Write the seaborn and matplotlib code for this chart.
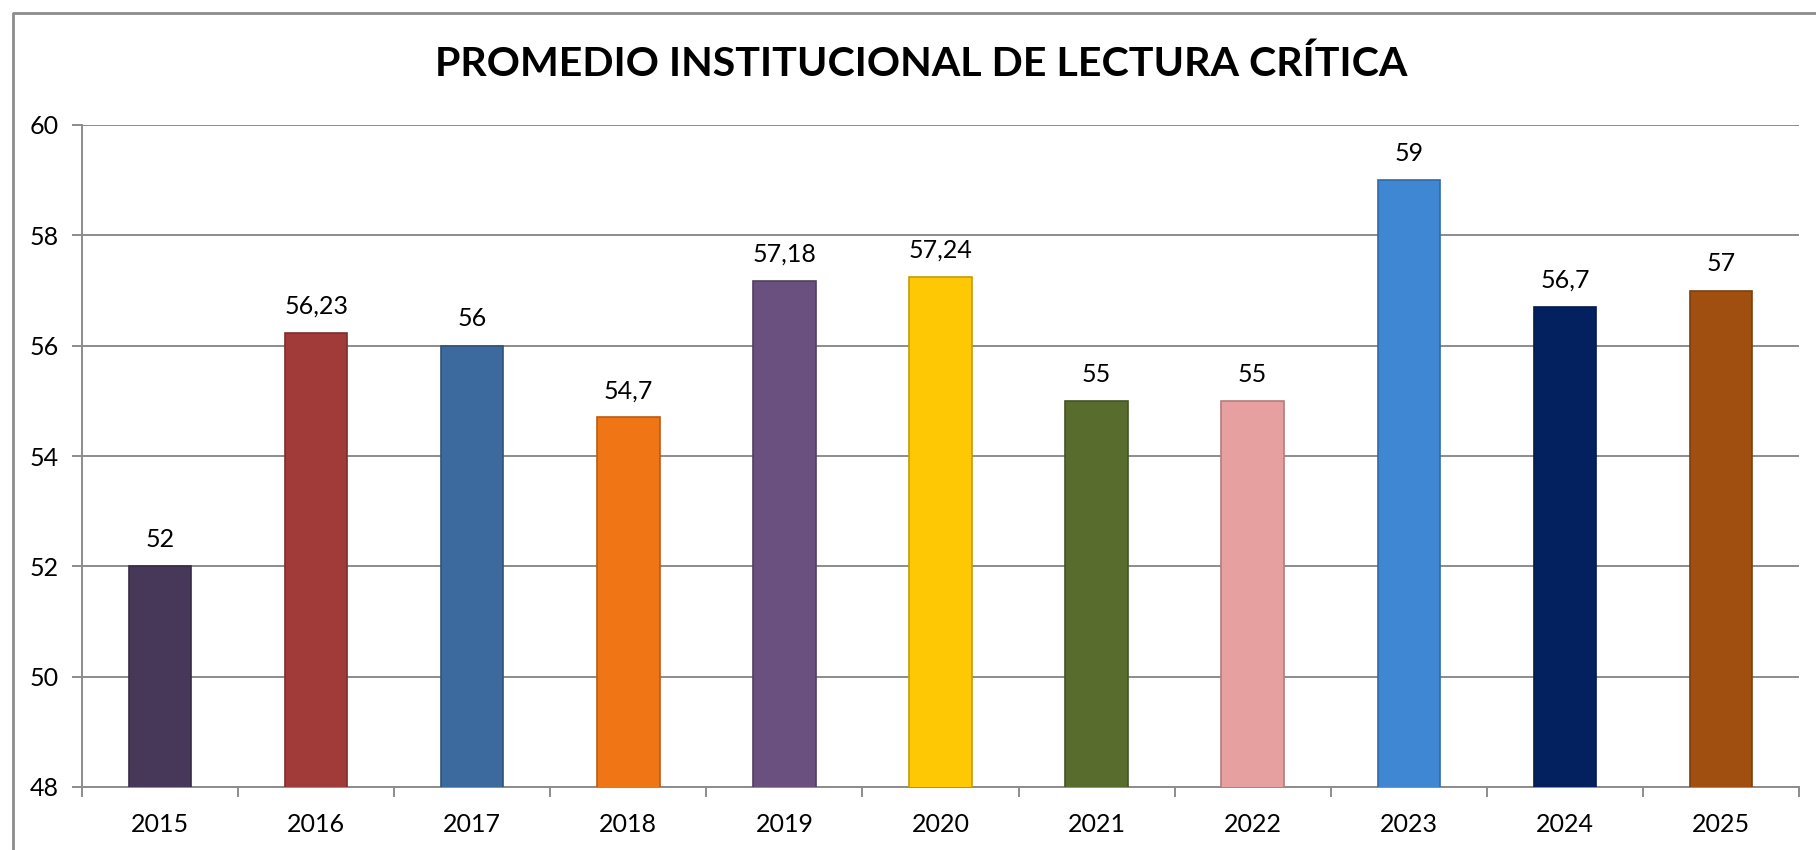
import matplotlib
matplotlib.use("Agg")
import matplotlib.pyplot as plt
import matplotlib.colors as mcolors
from matplotlib.lines import Line2D
import seaborn as sns
import pandas as pd

years = ["2015", "2016", "2017", "2018", "2019", "2020", "2021", "2022", "2023", "2024", "2025"]
values = [52, 56.23, 56, 54.7, 57.18, 57.24, 55, 55, 59, 56.7, 57]
labels = ["52", "56,23", "56", "54,7", "57,18", "57,24", "55", "55", "59", "56,7", "57"]
colors = ["#473859", "#A03B3A", "#3D6A9E", "#F07514", "#69507F", "#FFC805",
          "#576C2D", "#E5A09F", "#3F86D3", "#04215F", "#A04F10"]
title = "PROMEDIO INSTITUCIONAL DE LECTURA CRÍTICA"
yticks = [48, 50, 52, 54, 56, 58, 60]

sns.set_theme(style="white")
plt.rcParams["font.family"] = ["Lato", "DejaVu Sans"]

W, H = 1816, 850
fig = plt.figure(figsize=(W / 100, H / 100), dpi=100)
ax = fig.add_axes([82 / W, 1 - 787 / H, (1799 - 82) / W, (787 - 125) / H])

df = pd.DataFrame({"year": years, "value": values})
sns.barplot(data=df, x="year", y="value", hue="year", palette=colors,
            width=0.4, saturation=1, legend=False, ax=ax, zorder=3)

for p, c in zip(ax.patches, colors):
    dark = tuple(v * 0.78 for v in mcolors.to_rgb(c))
    p.set_edgecolor(dark)
    p.set_linewidth(1.2)

ax.set_ylim(48, 60)
ax.set_xlim(-0.5, len(years) - 0.5)
ax.set_yticks(yticks)
ax.set_yticklabels([str(t) for t in yticks])
ax.yaxis.grid(True, color="#8c8c8c", linewidth=1.4, zorder=0)
ax.xaxis.grid(False)
ax.set_axisbelow(True)
ax.set_xlabel("")
ax.set_ylabel("")

for s in ["top", "right"]:
    ax.spines[s].set_visible(False)
for s in ["left", "bottom"]:
    ax.spines[s].set_color("#8c8c8c")
    ax.spines[s].set_linewidth(1.4)

ax.set_xticks([i - 0.5 for i in range(len(years) + 1)], minor=True)
ax.tick_params(axis="x", which="major", length=0, pad=19, labelsize=18, colors="black")
ax.tick_params(axis="x", which="minor", length=7, width=1.4, color="#8c8c8c", direction="out", bottom=True)
ax.tick_params(axis="y", which="major", length=7, width=1.4, color="#8c8c8c", direction="out",
               left=True, pad=10, labelsize=18, labelcolor="black")

for p, lab in zip(ax.patches, labels):
    x = p.get_x() + p.get_width() / 2
    ax.annotate(lab, (x, p.get_height()), xytext=(0, 11), textcoords="offset points",
                ha="center", va="bottom", fontsize=18, color="black")

fig.text(921 / W, 1 - 64 / H, title, ha="center", va="center",
         fontsize=29.6, fontweight="bold", color="black")

# outer chart border
bx, by = 13 / W, 1 - 13 / H
fig.add_artist(Line2D([bx, bx, 1.0], [0, by, by], color="#8c8c8c", linewidth=2,
                      transform=fig.transFigure))

fig.savefig("out.png", dpi=100, facecolor="white")
